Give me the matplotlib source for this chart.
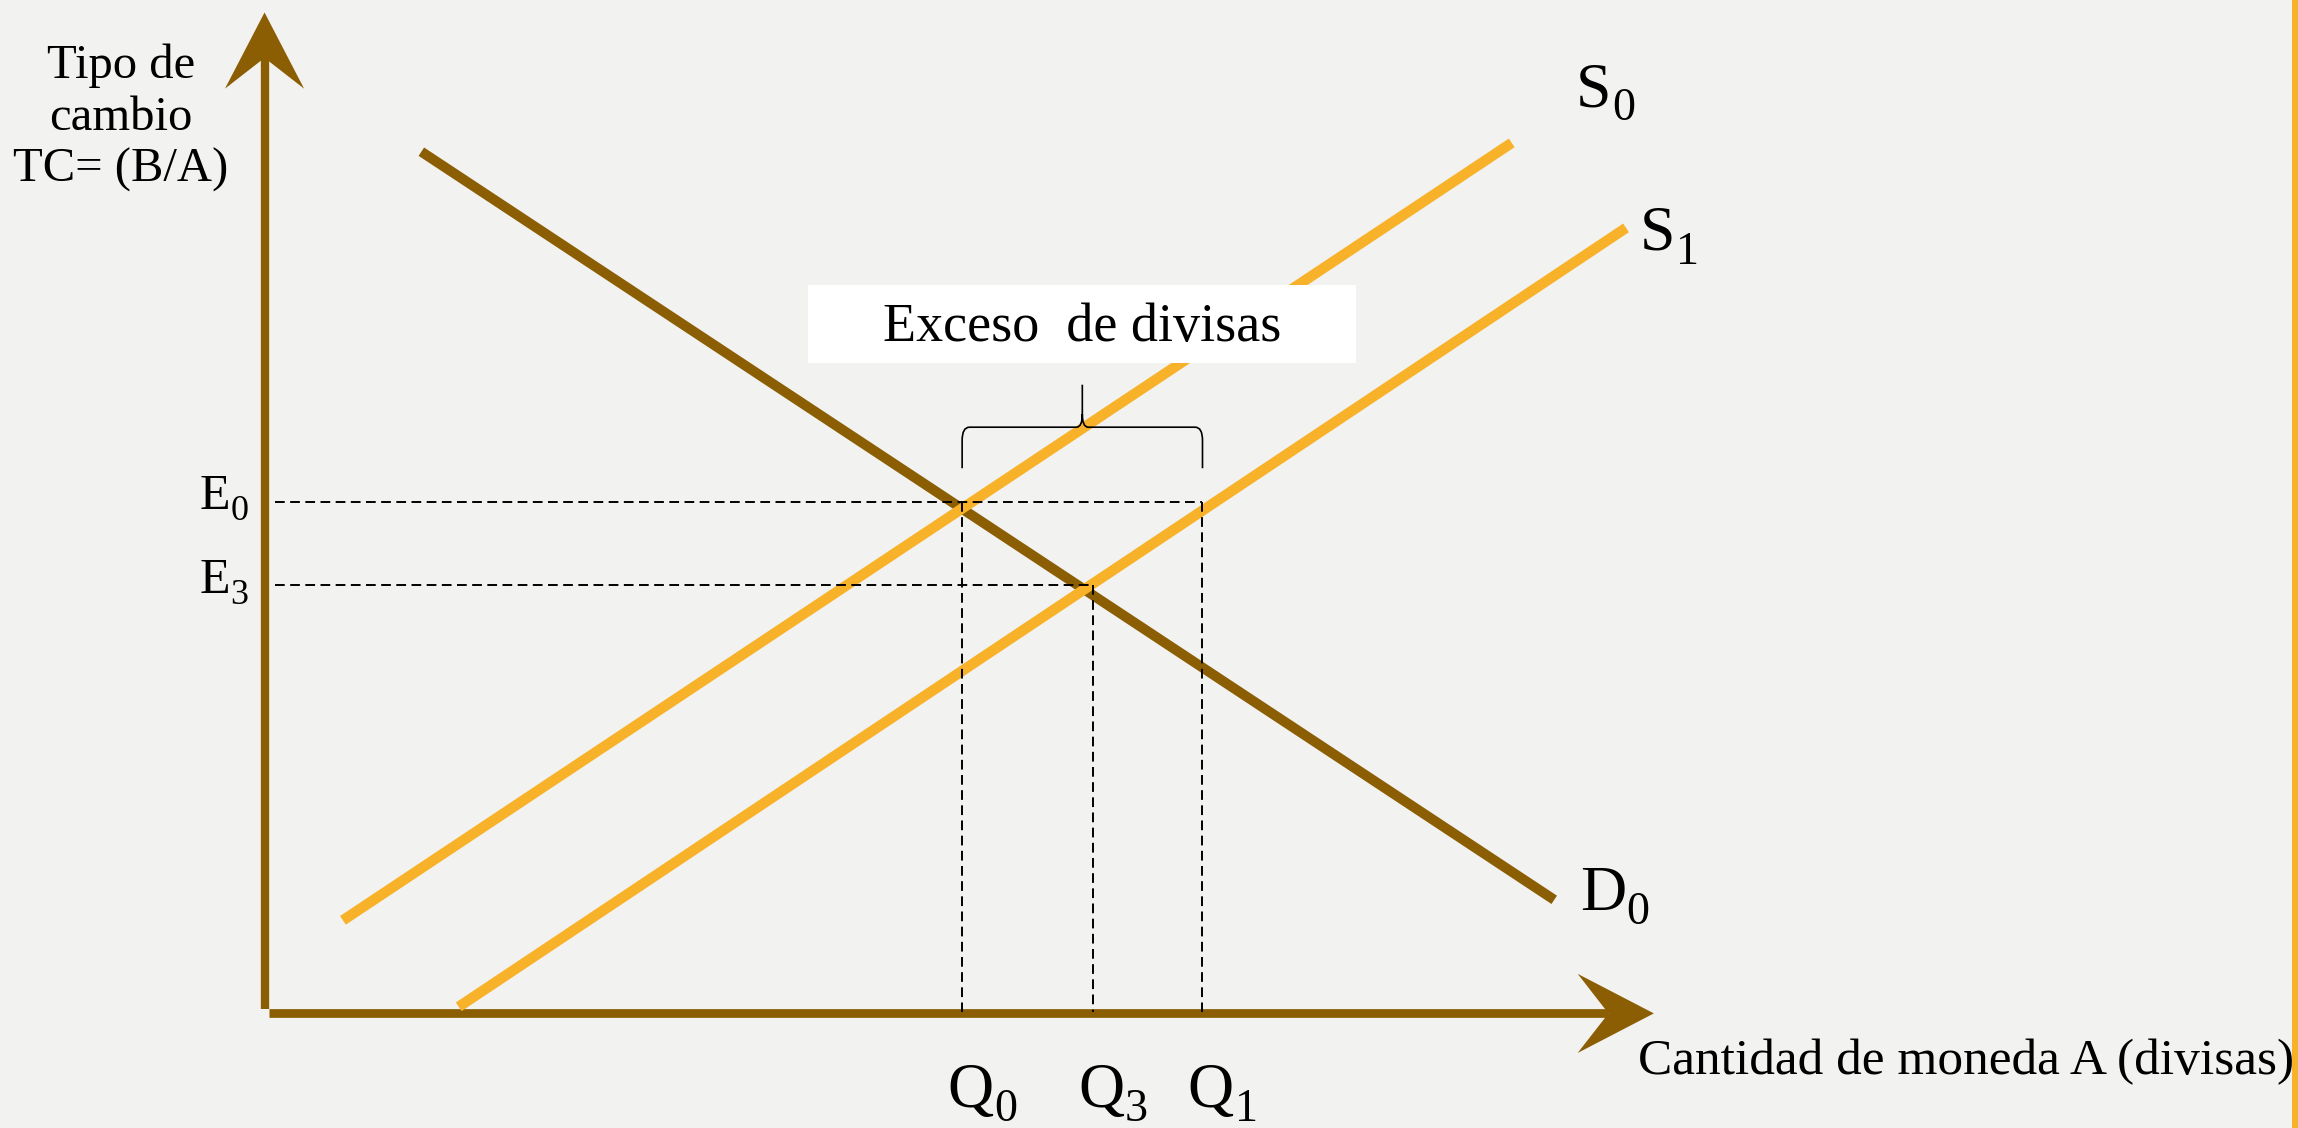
import numpy as np
import matplotlib.pyplot as plt
from matplotlib.path import Path
from matplotlib.patches import PathPatch, Polygon, Rectangle

plt.rcParams['font.family'] = ['Liberation Serif', 'DejaVu Serif']

BROWN = '#8B5E04'
ORANGE = '#F8B229'
BG = '#F2F2F0'

# curve endpoints (quantity, exchange rate)
d0_q = [10.7, 88.0]
d0_tc = [58.7, 7.65]
s0_q = [5.35, 85.1]
s0_tc = [6.25, 59.3]
s1_q = [13.25, 92.9]
s1_tc = [0.35, 53.5]

q_subs = ['0', '3', '1']
q_vals = [47.6, 56.5, 64.0]
q_tops = [34.8, 29.1, 34.8]      # level where each Q guide starts
e_subs = ['0', '3']
e_vals = [34.8, 29.1]
e_ends = [64.0, 56.5]            # quantity where each E guide ends

x_max = 94.8
y_max = 68.2

fig = plt.figure(figsize=(22.98, 11.28), dpi=100, facecolor=BG)
ax = fig.add_axes([0, 0, 1, 1])
ax.set_facecolor(BG)
ax.set_xlim(-18.05, 138.75)
ax.set_ylim(-7.92, 69.05)
ax.axis('off')


def sub_label(x, y, main, sub, size):
    t = ax.text(x, y, main, ha='left', va='baseline', fontsize=size, zorder=8)
    ax.annotate(sub, xy=(1, 0), xycoords=t, xytext=(0.5, 0.2), textcoords='offset points',
                ha='left', va='baseline', fontsize=size * 0.72, zorder=8)


# axes with notched arrow heads (the two shafts meet corner to corner)
head, notch, half = 5.2, 3.1, 2.7
ax.plot([0, 0], [0.2, y_max - notch], color=BROWN, lw=6, solid_capstyle='butt', zorder=2)
ax.plot([0.28, x_max - notch], [-0.1, -0.1], color=BROWN, lw=6.3, solid_capstyle='butt', zorder=2)
ax.add_patch(Polygon([(0, y_max), (-half, y_max - head), (0, y_max - notch), (half, y_max - head)],
                     closed=True, facecolor=BROWN, edgecolor='none', zorder=2))
ax.add_patch(Polygon([(x_max, -0.1), (x_max - head, half - 0.1), (x_max - notch, -0.1),
                      (x_max - head, -half - 0.1)],
                     closed=True, facecolor=BROWN, edgecolor='none', zorder=2))

# demand and supply
ax.plot(d0_q, d0_tc, color=BROWN, lw=7.2, solid_capstyle='butt', zorder=3)
ax.plot(s0_q, s0_tc, color=ORANGE, lw=7.5, solid_capstyle='butt', zorder=4)
ax.plot(s1_q, s1_tc, color=ORANGE, lw=7.5, solid_capstyle='butt', zorder=4)

# dashed guides
dash = dict(color='black', lw=1.4, dashes=(5, 2.8), zorder=5)
for e, q_end in zip(e_vals, e_ends):
    ax.plot([0.7, q_end], [e, e], **dash)
for q, top in zip(q_vals, q_tops):
    ax.plot([q, q], [top, 0], **dash)

# right-hand border band
ax.axvspan(138.35, 139.0, color=ORANGE, lw=0)

# brace over the excess
left, right = q_vals[0], q_vals[2]
mid = (left + right) / 2
yb, ym, yt = 37.1, 39.9, 42.8
verts = [(left, yb), (left, ym - 0.9), (left, ym), (left + 0.5, ym),
         (mid - 0.4, ym), (mid, ym), (mid, ym + 0.9), (mid, yt),
         (mid, ym + 0.9), (mid, ym), (mid + 0.4, ym),
         (right - 0.5, ym), (right, ym), (right, ym - 0.9), (right, yb)]
codes = [Path.MOVETO, Path.LINETO, Path.CURVE3, Path.CURVE3,
         Path.LINETO, Path.CURVE3, Path.CURVE3, Path.LINETO,
         Path.MOVETO, Path.CURVE3, Path.CURVE3,
         Path.LINETO, Path.CURVE3, Path.CURVE3, Path.LINETO]
ax.add_patch(PathPatch(Path(verts, codes), facecolor='none', edgecolor='black', lw=1.2, zorder=6))

ax.add_patch(Rectangle((37.1, 44.3), 37.4, 5.3, facecolor='white', edgecolor='none', zorder=7))
ax.text(mid, 45.8, 'Exceso  de divisas', ha='center', va='baseline', fontsize=39, zorder=8)

# labels
for sub, q in zip(q_subs, q_vals):
    sub_label(q - 1.0, -6.5, 'Q', sub, 46)
for sub, e in zip(e_subs, e_vals):
    sub_label(-4.45, e - 0.5, 'E', sub, 36)
sub_label(89.5, 61.8, 'S', '0', 46)
sub_label(93.85, 52.0, 'S', '1', 46)
sub_label(89.75, 6.95, 'D', '0', 46)

for line, yb_ in zip(['Tipo de', 'cambio', 'TC= (B/A)'], [63.7, 60.2, 56.65]):
    ax.text(-9.8, yb_, line, ha='center', va='baseline', fontsize=35)
ax.text(93.75, -4.25, 'Cantidad de moneda A (divisas)', ha='left', va='baseline', fontsize=37)

fig.savefig('out.png', dpi=100, facecolor=BG)
